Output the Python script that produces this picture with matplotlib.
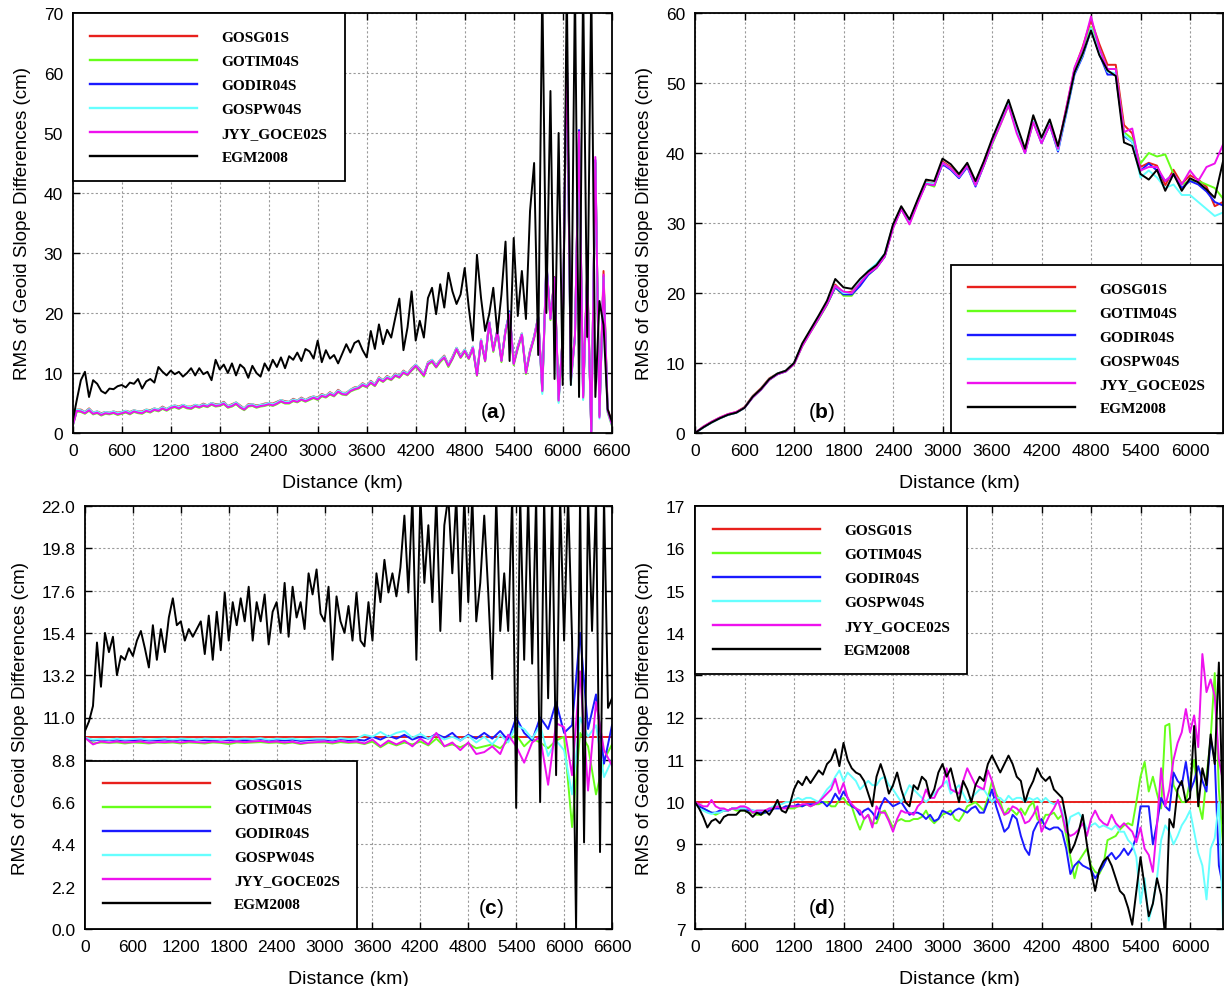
import numpy as np
import matplotlib
matplotlib.use("Agg")
import matplotlib.pyplot as plt
from matplotlib.ticker import FormatStrFormatter

plt.rcParams['font.family'] = ['Liberation Sans', 'DejaVu Sans']
plt.rcParams['mathtext.fontset'] = 'custom'
plt.rcParams['mathtext.rm'] = 'Liberation Sans'
plt.rcParams['mathtext.bf'] = 'Liberation Sans:bold'

models = ['GOSG01S', 'GOTIM04S', 'GODIR04S', 'GOSPW04S', 'JYY_GOCE02S', 'EGM2008']
colors = ['#e8201c', '#66ff1a', '#1a1aff', '#66ffff', '#ee11ee', '#000000']

# ---------------- panel (a): 0-6600 km, 50 km steps ----------------
dist_a = np.arange(0, 6601, 50)

gosg01s_a = [1.4, 3.9, 3.9, 3.5, 4.1, 3.4, 3.6, 3.3, 3.5, 3.4,
             3.6, 3.4, 3.5, 3.7, 3.5, 3.8, 3.6, 3.6, 3.9, 3.8,
             4.1, 3.9, 4.4, 4.0, 4.4, 4.6, 4.4, 4.7, 4.4, 4.4,
             4.7, 4.5, 4.9, 4.6, 5.0, 4.8, 4.8, 5.2, 4.5, 4.8,
             5.1, 4.6, 4.1, 4.8, 4.8, 4.6, 4.7, 4.9, 5.0, 4.9,
             5.2, 5.5, 5.3, 5.2, 5.7, 5.4, 5.9, 5.5, 5.9, 6.1,
             5.9, 6.5, 6.2, 6.8, 6.4, 7.2, 6.7, 6.7, 7.2, 7.6,
             7.7, 8.3, 7.9, 8.7, 8.1, 9.3, 8.8, 9.5, 9.1, 9.9,
             9.5, 10.4, 9.9, 10.8, 11.4, 10.7, 9.8, 11.8, 12.2, 11.3,
             12.2, 12.9, 11.4, 12.7, 14.2, 12.9, 13.9, 12.7, 14.4, 9.9,
             15.6, 12.3, 18.6, 14.0, 17.2, 12.3, 17.2, 20.0, 11.8, 14.5,
             16.6, 10.3, 13.8, 16.1, 19.4, 7.3, 28.3, 19.3, 26.0, 5.7,
             16.2, 63.5, 9.0, 16.3, 49.5, 6.2, 26.8, 0.5, 45.0, 3.0,
             27.0, 4.0, 1.8]
gotim04s_a = [1.1, 3.6, 3.5, 3.2, 3.7, 3.1, 3.3, 2.9, 3.2, 3.1,
              3.3, 3.0, 3.2, 3.4, 3.1, 3.5, 3.3, 3.2, 3.6, 3.4,
              3.8, 3.6, 4.0, 3.7, 4.1, 4.3, 4.0, 4.4, 4.1, 4.0,
              4.4, 4.2, 4.5, 4.3, 4.7, 4.4, 4.5, 4.8, 4.2, 4.4,
              4.8, 4.2, 3.8, 4.4, 4.5, 4.2, 4.4, 4.5, 4.7, 4.5,
              4.8, 5.2, 4.9, 4.9, 5.3, 5.1, 5.5, 5.2, 5.5, 5.8,
              5.5, 6.1, 5.9, 6.4, 6.1, 6.8, 6.4, 6.3, 6.9, 7.2,
              7.4, 7.9, 7.6, 8.3, 7.8, 8.9, 8.5, 9.1, 8.8, 9.5,
              9.2, 10.0, 9.6, 10.4, 11.0, 10.3, 9.4, 11.4, 11.8, 10.9,
              11.8, 12.5, 11.0, 12.3, 13.8, 12.5, 13.5, 12.3, 14.0, 9.5,
              15.2, 11.9, 18.2, 13.5, 16.8, 11.8, 16.8, 19.5, 11.3, 14.0,
              16.2, 9.8, 13.3, 15.7, 19.0, 6.8, 27.6, 18.8, 25.5, 5.2,
              15.6, 63.0, 8.5, 15.8, 49.0, 5.6, 26.5, 0.3, 45.0, 3.2,
              26.0, 3.4, 1.3]
godir04s_a = [1.3, 3.8, 3.7, 3.4, 3.9, 3.3, 3.5, 3.1, 3.4, 3.3,
              3.5, 3.2, 3.4, 3.6, 3.3, 3.7, 3.5, 3.4, 3.8, 3.6,
              4.0, 3.8, 4.2, 3.9, 4.3, 4.5, 4.2, 4.6, 4.3, 4.2,
              4.6, 4.4, 4.7, 4.5, 4.9, 4.6, 4.7, 5.0, 4.4, 4.6,
              5.0, 4.4, 4.0, 4.6, 4.7, 4.4, 4.6, 4.7, 4.9, 4.7,
              5.0, 5.4, 5.1, 5.1, 5.5, 5.3, 5.7, 5.4, 5.7, 6.0,
              5.7, 6.3, 6.1, 6.6, 6.3, 7.0, 6.6, 6.5, 7.1, 7.4,
              7.6, 8.1, 7.8, 8.5, 8.0, 9.1, 8.7, 9.3, 9.0, 9.7,
              9.4, 10.2, 9.8, 10.6, 11.3, 10.5, 9.7, 11.6, 12.1, 11.1,
              12.1, 12.7, 11.3, 12.5, 14.1, 12.7, 13.8, 12.5, 14.3, 9.7,
              15.5, 12.1, 18.5, 13.8, 17.1, 12.1, 17.1, 20.3, 11.6, 14.3,
              16.5, 10.1, 13.6, 16.0, 19.3, 7.1, 28.6, 19.1, 25.9, 5.5,
              16.0, 64.5, 8.8, 16.1, 50.5, 6.0, 26.0, 0.2, 45.5, 2.8,
              26.0, 3.8, 1.6]
gospw04s_a = [1.3, 3.9, 3.8, 3.5, 4.0, 3.4, 3.6, 3.2, 3.5, 3.4,
              3.6, 3.3, 3.5, 3.7, 3.4, 3.8, 3.6, 3.5, 3.9, 3.7,
              4.1, 3.9, 4.3, 4.0, 4.4, 4.6, 4.3, 4.7, 4.4, 4.3,
              4.7, 4.5, 4.8, 4.6, 5.0, 4.7, 4.8, 5.1, 4.5, 4.7,
              5.1, 4.5, 4.1, 4.7, 4.8, 4.5, 4.7, 4.8, 5.0, 4.8,
              5.1, 5.5, 5.2, 5.2, 5.6, 5.4, 5.8, 5.5, 5.8, 6.1,
              5.8, 6.4, 6.2, 6.7, 6.4, 7.1, 6.7, 6.6, 7.2, 7.5,
              7.7, 8.2, 7.9, 8.6, 8.1, 9.2, 8.8, 9.4, 9.1, 9.8,
              9.5, 10.3, 9.9, 10.7, 11.4, 10.6, 9.8, 11.7, 12.2, 11.2,
              12.2, 12.8, 11.4, 12.6, 14.2, 12.8, 13.9, 12.6, 14.4, 9.8,
              15.6, 12.2, 18.6, 13.9, 17.2, 12.2, 17.2, 20.0, 11.7, 14.4,
              16.6, 10.2, 13.7, 16.1, 19.4, 6.5, 28.0, 19.2, 25.6, 5.0,
              16.1, 63.0, 8.0, 16.2, 49.0, 5.5, 26.2, 0.4, 45.0, 2.4,
              26.0, 3.5, 1.4]
jyy_goce02s_a = [1.2, 3.7, 3.6, 3.3, 3.8, 3.2, 3.4, 3.0, 3.3, 3.2,
                 3.4, 3.1, 3.3, 3.5, 3.2, 3.6, 3.4, 3.3, 3.7, 3.5,
                 3.9, 3.7, 4.1, 3.8, 4.2, 4.4, 4.1, 4.5, 4.2, 4.1,
                 4.5, 4.3, 4.6, 4.4, 4.8, 4.5, 4.6, 4.9, 4.3, 4.5,
                 4.9, 4.3, 3.9, 4.5, 4.6, 4.3, 4.5, 4.6, 4.8, 4.6,
                 4.9, 5.3, 5.0, 5.0, 5.4, 5.2, 5.6, 5.3, 5.6, 5.9,
                 5.6, 6.2, 6.0, 6.5, 6.2, 6.9, 6.5, 6.4, 7.0, 7.3,
                 7.5, 8.0, 7.7, 8.4, 7.9, 9.0, 8.6, 9.2, 8.9, 9.6,
                 9.3, 10.1, 9.7, 10.5, 11.2, 10.4, 9.6, 11.5, 12.0, 11.0,
                 12.0, 12.6, 11.2, 12.4, 14.0, 12.6, 13.7, 12.4, 14.2, 9.6,
                 15.4, 12.0, 18.4, 13.7, 17.0, 12.0, 17.0, 19.8, 11.5, 14.2,
                 16.4, 10.0, 13.5, 15.9, 19.2, 7.0, 28.0, 19.0, 25.8, 5.4,
                 15.9, 64.0, 8.7, 16.0, 50.2, 5.9, 27.0, 0.0, 46.0, 2.6,
                 26.4, 3.7, 1.5]
egm2008_a = [2.0, 5.5, 8.8, 10.2, 6.0, 8.8, 8.2, 7.0, 6.6, 7.4,
             7.3, 7.8, 8.0, 7.6, 8.4, 8.2, 9.0, 7.4, 8.6, 9.0,
             8.4, 11.0, 10.2, 9.6, 10.4, 9.8, 10.2, 9.4, 10.0, 10.8,
             9.6, 10.8, 9.8, 10.2, 8.8, 12.2, 10.6, 11.4, 10.0, 11.6,
             9.6, 11.4, 10.8, 9.2, 11.2, 10.0, 9.4, 11.6, 10.4, 12.2,
             11.0, 12.6, 10.8, 12.8, 12.2, 13.4, 12.0, 14.0, 13.6, 12.4,
             15.4, 11.8, 13.8, 12.4, 13.0, 11.6, 13.2, 14.8, 13.4, 15.0,
             15.4, 13.8, 12.6, 17.0, 14.0, 18.1, 14.8, 17.2, 15.9, 19.2,
             22.4, 13.8, 17.6, 23.6, 15.4, 18.7, 15.9, 22.5, 24.2, 19.8,
             24.8, 20.9, 26.7, 23.6, 21.5, 23.1, 27.5, 20.9, 15.4, 29.7,
             22.5, 17.0, 19.8, 24.2, 16.6, 23.1, 31.9, 12.0, 32.5, 19.5,
             27.0, 19.0, 37.0, 45.0, 13.0, 75.0, 20.0, 57.0, 9.0, 50.0,
             8.0, 75.0, 8.0, 75.0, 6.0, 75.0, 16.0, 75.0, 6.0, 22.0,
             18.0, 4.0, 2.0]

# ---------------- panel (b): 0-6400 km, 100 km steps ----------------
dist_b = np.arange(0, 6401, 100)

gosg01s_b = [0.0, 0.9, 1.6, 2.2, 2.7, 3.0, 3.7, 5.3, 6.4, 7.8,
             8.5, 8.9, 10.0, 12.6, 14.6, 16.5, 18.5, 21.2, 20.0, 20.2,
             21.4, 22.8, 23.8, 25.4, 29.6, 32.2, 30.3, 33.2, 35.9, 35.6,
             38.8, 38.0, 36.8, 38.4, 35.8, 38.6, 41.6, 44.4, 47.2, 43.6,
             40.4, 44.8, 41.8, 44.4, 40.8, 46.4, 52.0, 55.2, 59.0, 55.6,
             52.6, 52.6, 44.0, 42.8, 38.0, 38.6, 38.2, 35.4, 37.6, 35.6,
             36.8, 36.2, 35.2, 32.4, 33.0]
gotim04s_b = [0.0, 0.8, 1.5, 2.1, 2.6, 2.9, 3.6, 5.1, 6.2, 7.6,
              8.4, 8.8, 9.8, 12.4, 14.4, 16.3, 18.3, 20.8, 19.6, 19.6,
              21.2, 22.6, 23.6, 25.2, 29.4, 32.0, 30.0, 33.0, 35.6, 35.2,
              38.6, 37.8, 36.6, 38.2, 35.4, 38.2, 41.2, 44.0, 46.8, 43.2,
              40.2, 44.4, 41.6, 44.0, 40.6, 46.0, 51.8, 54.6, 58.0, 55.0,
              52.0, 52.0, 43.0, 42.0, 38.5, 40.0, 39.5, 39.8, 37.0, 35.5,
              36.0, 36.0, 35.5, 35.0, 33.5]
godir04s_b = [0.0, 0.8, 1.5, 2.1, 2.6, 2.9, 3.6, 5.1, 6.2, 7.6,
              8.4, 8.8, 9.9, 12.5, 14.5, 16.4, 18.4, 20.8, 19.8, 19.8,
              21.0, 22.6, 23.6, 25.2, 29.4, 32.0, 30.0, 33.0, 35.6, 35.4,
              38.4, 37.6, 36.4, 38.0, 35.2, 38.2, 41.4, 44.2, 47.0, 43.4,
              40.0, 44.6, 41.4, 44.0, 40.2, 45.6, 51.2, 53.8, 57.6, 54.2,
              51.2, 51.2, 42.4, 41.6, 37.5, 38.5, 37.5, 36.0, 37.0, 35.0,
              36.0, 35.5, 34.5, 33.0, 32.5]
gospw04s_b = [0.0, 0.8, 1.5, 2.1, 2.6, 2.9, 3.6, 5.2, 6.3, 7.7,
              8.5, 8.9, 10.0, 12.6, 14.6, 16.6, 18.6, 21.0, 20.0, 20.0,
              21.6, 23.2, 24.2, 25.6, 29.6, 32.2, 30.2, 33.2, 35.8, 35.6,
              38.6, 37.8, 36.6, 38.2, 35.4, 38.4, 41.4, 44.2, 47.0, 43.4,
              40.2, 44.6, 41.6, 44.2, 40.4, 45.8, 51.4, 54.0, 57.8, 54.4,
              51.6, 51.4, 42.6, 41.6, 36.5, 37.5, 36.5, 35.0, 35.5, 34.0,
              34.0, 33.0, 32.0, 31.0, 31.5]
jyy_goce02s_b = [0.0, 0.9, 1.6, 2.2, 2.7, 3.0, 3.6, 5.1, 6.2, 7.6,
                 8.4, 8.8, 9.8, 12.4, 14.4, 16.4, 18.4, 21.0, 20.2, 20.0,
                 21.4, 22.8, 23.6, 25.2, 29.2, 32.0, 29.8, 32.8, 35.6, 35.4,
                 38.6, 37.8, 36.6, 38.2, 35.4, 38.2, 41.4, 44.0, 46.8, 42.8,
                 40.0, 44.4, 41.4, 44.0, 40.6, 46.4, 52.2, 55.0, 59.5, 55.0,
                 52.0, 52.0, 43.0, 43.5, 37.5, 38.0, 38.0, 36.0, 37.0, 35.5,
                 37.5, 36.0, 38.0, 38.5, 41.2]
egm2008_b = [0.0, 0.8, 1.5, 2.1, 2.6, 2.9, 3.6, 5.2, 6.3, 7.7,
             8.5, 8.9, 10.0, 12.8, 14.8, 16.8, 18.9, 22.0, 20.8, 20.6,
             22.0, 23.1, 24.0, 25.6, 29.8, 32.4, 30.5, 33.4, 36.2, 36.0,
             39.2, 38.4, 37.0, 38.6, 36.0, 38.8, 42.0, 44.8, 47.6, 44.0,
             40.6, 45.4, 42.2, 44.8, 41.0, 46.0, 51.5, 54.2, 57.5, 54.0,
             51.8, 51.0, 41.5, 41.0, 37.0, 36.2, 37.6, 34.6, 37.0, 34.6,
             36.4, 35.8, 34.8, 33.6, 38.8]

# ---------------- panel (c): 0-6600 km ----------------
dist_c_ref = [0, 6600]
dist_c = np.arange(0, 6601, 100)
dist_c_egm = np.arange(0, 6601, 50)

gosg01s_c = [10.0, 10.0]
gotim04s_c = [9.95, 9.65, 9.7, 9.68, 9.7, 9.65, 9.7, 9.68, 9.65, 9.7,
              9.68, 9.7, 9.65, 9.7, 9.68, 9.65, 9.7, 9.68, 9.62, 9.7,
              9.68, 9.7, 9.72, 9.68, 9.7, 9.65, 9.7, 9.62, 9.68, 9.7,
              9.7, 9.65, 9.72, 9.68, 9.7, 9.62, 9.75, 9.45, 9.7, 9.55,
              9.7, 9.6, 9.75, 9.55, 9.9, 9.5, 9.6, 9.45, 9.65, 9.4,
              9.5, 9.6, 9.4, 9.8, 10.1, 9.5, 9.9, 9.7, 9.4, 9.8,
              10.0, 5.3, 10.2, 9.5, 7.0, 8.8, 9.6]
godir04s_c = [9.95, 9.8, 9.85, 9.82, 9.85, 9.8, 9.82, 9.85, 9.8, 9.82,
              9.85, 9.82, 9.85, 9.8, 9.85, 9.82, 9.8, 9.85, 9.82, 9.85,
              9.82, 9.85, 9.88, 9.82, 9.85, 9.8, 9.85, 9.78, 9.82, 9.85,
              9.85, 9.8, 9.88, 9.82, 9.85, 9.8, 10.0, 9.85, 10.05, 9.9,
              10.1, 9.85, 10.0, 9.9, 10.15, 9.95, 10.2, 9.8, 10.1, 9.9,
              10.2, 9.9, 10.3, 9.8, 11.0, 10.2, 9.8, 11.0, 10.4, 11.8,
              10.2, 10.6, 15.4, 10.4, 12.2, 8.6, 10.6]
gospw04s_c = [9.95, 9.85, 9.88, 9.85, 9.9, 9.85, 9.88, 9.9, 9.85, 9.88,
              9.9, 9.85, 9.9, 9.88, 9.85, 9.9, 9.88, 9.85, 9.9, 9.88,
              9.9, 9.88, 9.92, 9.85, 9.9, 9.88, 9.9, 9.85, 9.88, 9.9,
              9.9, 9.85, 9.92, 9.88, 9.9, 10.1, 10.0, 10.25, 10.0, 10.2,
              10.3, 9.95, 10.15, 9.9, 10.1, 9.85, 10.0, 9.8, 10.05, 9.7,
              10.0, 9.6, 10.1, 9.7, 10.6, 10.4, 9.9, 10.6, 9.0, 9.8,
              9.3, 7.0, 11.0, 10.0, 10.6, 7.9, 8.8]
jyy_goce02s_c = [9.95, 9.6, 9.75, 9.7, 9.75, 9.7, 9.72, 9.75, 9.68, 9.72,
                 9.72, 9.75, 9.7, 9.75, 9.72, 9.7, 9.75, 9.72, 9.7, 9.75,
                 9.72, 9.75, 9.78, 9.72, 9.75, 9.7, 9.74, 9.65, 9.7, 9.72,
                 9.75, 9.7, 9.78, 9.72, 9.75, 9.65, 9.85, 9.5, 9.8, 9.6,
                 9.8, 9.5, 9.9, 9.6, 10.2, 9.5, 9.7, 9.3, 9.7, 9.1,
                 9.2, 9.5, 9.1, 10.1, 9.5, 8.65, 9.7, 10.0, 7.5, 10.7,
                 10.5, 8.0, 13.4, 7.2, 11.8, 9.3, 8.5]
egm2008_c = [10.3, 10.8, 11.6, 14.9, 12.6, 15.4, 14.4, 15.2, 13.2, 14.2,
             14.0, 14.6, 14.2, 15.0, 15.5, 14.6, 13.6, 15.8, 14.0, 15.6,
             14.4, 16.2, 17.2, 15.8, 16.0, 15.0, 15.6, 15.2, 15.6, 16.0,
             14.3, 16.3, 14.0, 16.5, 14.5, 17.5, 15.0, 17.0, 15.8, 17.2,
             16.0, 17.8, 15.0, 17.0, 16.0, 17.4, 14.8, 16.5, 17.0, 15.4,
             18.0, 15.2, 17.8, 16.2, 17.0, 15.6, 18.5, 17.4, 18.7, 16.4,
             16.0, 17.8, 14.0, 17.3, 16.0, 15.4, 16.8, 15.0, 17.5, 15.0,
             14.7, 17.0, 15.0, 18.5, 17.0, 19.2, 17.5, 18.5, 17.3, 18.8,
             21.5, 17.5, 22.5, 14.0, 22.5, 18.0, 21.0, 17.0, 22.5, 15.5,
             21.0, 22.5, 18.5, 22.5, 16.0, 22.5, 17.0, 22.5, 16.0, 18.0,
             21.5, 17.5, 13.0, 22.5, 15.5, 18.5, 15.5, 22.5, 6.3, 22.5,
             14.0, 22.5, 13.8, 22.5, 6.6, 22.5, 12.0, 22.5, 8.0, 22.5,
             15.0, 22.5, 15.0, 0.0, 22.5, 4.5, 22.5, 15.5, 22.5, 4.0,
             22.5, 11.5, 12.0]

# ---------------- panel (d): 0-6400 km, 50 km steps ----------------
dist_d_ref = [0, 6400]
dist_d = np.arange(0, 6401, 50)

gosg01s_d = [10.0, 10.0]
gotim04s_d = [10.0, 9.9, 9.85, 9.8, 9.75, 9.7, 9.75, 9.8, 9.8, 9.85,
              9.8, 9.8, 9.8, 9.75, 9.75, 9.7, 9.7, 9.75, 9.8, 9.85,
              9.9, 9.85, 9.9, 9.85, 9.85, 9.9, 9.9, 9.95, 9.9, 9.95,
              9.95, 10.0, 10.0, 9.9, 9.9, 10.05, 10.1, 9.95, 9.9, 9.6,
              9.35, 9.6, 9.7, 9.5, 9.5, 9.75, 9.8, 9.6, 9.4, 9.55,
              9.6, 9.55, 9.55, 9.6, 9.6, 9.65, 9.8, 9.6, 9.5, 9.6,
              9.7, 9.75, 9.8, 9.6, 9.55, 9.7, 9.9, 9.95, 10.0, 9.9,
              9.8, 10.1, 10.5, 10.2, 10.0, 9.7, 9.85, 9.8, 9.7, 9.85,
              9.7, 9.9, 10.0, 9.6, 9.5, 9.7, 9.7, 9.75, 9.6, 9.7,
              9.2, 8.7, 8.2, 8.6, 8.75, 8.9, 8.5, 8.35, 8.3, 8.5,
              9.1, 9.15, 9.2, 9.35, 9.45, 9.5, 9.45, 10.0, 10.6, 10.95,
              10.25, 10.6, 10.2, 9.85, 11.8, 11.85, 10.4, 10.2, 10.0, 10.0,
              10.5, 11.0, 10.0, 9.6, 10.6, 11.5, 13.05, 10.3, 9.0]
godir04s_d = [10.0, 9.9, 9.85, 9.8, 9.75, 9.75, 9.8, 9.8, 9.8, 9.85,
              9.85, 9.85, 9.85, 9.8, 9.8, 9.75, 9.75, 9.75, 9.8, 9.85,
              9.85, 9.85, 9.9, 9.9, 9.9, 9.95, 9.9, 9.95, 9.95, 9.95,
              10.0, 10.0, 9.9, 10.0, 10.2, 10.05, 10.25, 10.1, 9.9, 9.85,
              9.7, 9.8, 9.85, 9.75, 9.6, 9.9, 10.1, 10.0, 9.9, 9.95,
              10.0, 9.85, 9.7, 9.75, 9.75, 9.7, 9.6, 9.7, 9.55, 9.6,
              9.8, 9.75, 9.7, 9.8, 9.85, 9.8, 9.75, 9.85, 9.9, 9.75,
              9.75, 10.0, 10.3, 9.9, 9.6, 9.3, 9.4, 9.7, 9.6, 9.2,
              8.9, 8.75, 9.3, 9.5, 9.6, 9.4, 9.35, 9.4, 9.4, 9.3,
              8.9, 8.3, 8.5, 8.6, 8.5, 8.45, 8.4, 8.2, 8.35, 8.5,
              8.7, 8.8, 8.65, 8.75, 8.9, 8.75, 8.9, 9.2, 9.9, 9.9,
              9.9, 9.0, 9.5, 10.1, 9.9, 9.8, 10.7, 10.5, 10.4, 10.95,
              10.25, 10.5, 10.85, 10.5, 10.25, 11.5, 11.0, 8.5, 8.0]
gospw04s_d = [10.0, 9.85, 9.8, 9.75, 9.72, 9.75, 9.75, 9.8, 9.8, 9.85,
              9.85, 9.85, 9.85, 9.85, 9.8, 9.8, 9.8, 9.8, 9.85, 9.9,
              9.95, 9.95, 10.0, 10.0, 10.05, 10.1, 10.05, 10.1, 10.1, 10.05,
              10.0, 10.15, 10.3, 10.4, 10.6, 10.75, 10.5, 10.7, 10.6, 10.5,
              10.3, 10.4, 10.5, 10.4, 10.4, 10.55, 10.6, 10.4, 10.3, 10.15,
              10.0, 10.2, 10.4, 10.3, 10.2, 10.1, 10.0, 10.1, 10.2, 10.3,
              10.4, 10.5, 10.2, 10.3, 10.4, 10.2, 10.0, 10.1, 10.2, 10.3,
              10.3, 10.15, 10.0, 10.1, 10.1, 10.0, 10.15, 10.05, 10.1, 10.1,
              10.0, 10.1, 10.05, 10.1, 10.0, 10.1, 10.0, 9.95, 10.0, 9.8,
              9.3, 9.65, 9.7, 9.75, 9.6, 9.35, 9.45, 9.5, 9.4, 9.45,
              9.4, 9.35, 9.45, 9.3, 9.3, 9.1, 9.0, 8.7, 7.6, 8.2,
              7.2, 7.6, 8.2, 9.1, 9.45, 9.3, 9.0, 9.2, 9.45, 9.6,
              9.8, 9.3, 8.8, 8.5, 7.7, 8.9, 9.15, 10.0, 7.1]
jyy_goce02s_d = [10.0, 9.95, 9.9, 9.9, 10.05, 9.9, 9.85, 9.85, 9.8, 9.85,
                 9.85, 9.9, 9.9, 9.85, 9.75, 9.8, 9.8, 9.8, 9.85, 9.85,
                 9.9, 9.85, 9.85, 9.9, 9.9, 9.9, 9.95, 9.95, 9.9, 9.95,
                 10.0, 10.1, 10.2, 10.3, 10.55, 10.2, 10.45, 10.1, 9.95, 9.85,
                 9.8, 9.6, 9.7, 9.4, 9.9, 9.75, 9.75, 9.55, 9.3, 9.6,
                 9.8, 9.75, 9.75, 9.7, 9.9, 10.0, 10.3, 10.1, 10.1, 10.3,
                 10.4, 10.8, 10.3, 10.25, 10.2, 10.5, 10.8, 10.6, 10.4, 10.35,
                 10.3, 10.75, 10.5, 10.1, 9.9, 9.7, 9.75, 9.9, 9.85, 9.75,
                 9.5, 9.55, 9.7, 9.9, 9.3, 9.5, 9.7, 9.85, 10.05, 9.7,
                 9.3, 9.2, 9.25, 9.35, 9.5, 9.2, 9.6, 9.8, 9.6, 9.5,
                 9.45, 9.7, 9.5, 9.4, 9.5, 9.4, 9.3, 9.05, 9.4, 8.9,
                 8.75, 8.35, 9.45, 10.8, 9.9, 10.3, 11.0, 11.4, 11.65, 12.2,
                 11.65, 12.05, 11.3, 13.5, 12.6, 12.9, 12.5, 11.0, 10.5]
egm2008_d = [10.0, 9.85, 9.65, 9.4, 9.55, 9.6, 9.5, 9.65, 9.7, 9.7,
             9.7, 9.8, 9.8, 9.75, 9.65, 9.75, 9.7, 9.8, 9.7, 9.85,
             10.05, 9.8, 9.75, 9.95, 10.3, 10.5, 10.4, 10.6, 10.45, 10.6,
             10.75, 10.65, 10.9, 11.0, 11.25, 10.85, 11.4, 11.0, 10.8, 10.7,
             10.65, 10.5, 10.2, 9.9, 10.6, 10.9, 10.6, 10.2, 10.4, 10.7,
             10.3, 10.0, 9.9, 10.4, 10.3, 10.6, 10.5, 10.1, 10.3, 10.7,
             10.9, 10.6, 10.8, 10.4, 10.0, 10.5, 10.3, 10.0, 10.4, 10.6,
             10.5, 10.9, 11.1, 10.9, 10.7, 10.9, 11.1, 10.9, 10.6, 10.5,
             10.0, 10.3, 10.5, 10.8, 10.6, 10.5, 10.6, 10.3, 10.2, 10.1,
             9.6, 8.8, 9.0, 9.3, 9.7, 9.0, 8.4, 7.9, 8.4, 8.6,
             8.7, 8.5, 8.2, 7.9, 7.8, 7.5, 7.1, 7.9, 8.7, 8.0,
             7.3, 7.6, 8.2, 7.8, 6.8, 9.6, 9.4, 10.3, 10.5, 10.0,
             10.1, 11.8, 9.9, 10.8, 10.4, 11.6, 10.9, 13.3, 9.5]


def draw_panel(ax, curves, xmax, ylim, ystep, letter, letter_x, leg_loc, leg_anchor, yfmt=None):
    for (x, y), name, c in zip(curves, models, colors):
        ax.plot(x, y, color=c, lw=1.4, label=name)
    ax.set_xlim(0, xmax)
    ax.set_ylim(*ylim)
    ax.set_xticks(np.arange(0, xmax + 1, 600))
    ax.set_yticks(np.arange(ylim[0], ylim[1] + ystep / 2, ystep))
    if yfmt:
        ax.yaxis.set_major_formatter(FormatStrFormatter(yfmt))
    ax.set_axisbelow(True)
    ax.grid(True, color='#9a9a9a', linestyle=(0, (2, 2)), linewidth=0.8)
    ax.tick_params(direction='in', top=True, right=True, length=5, width=1,
                   labelsize=12.5, pad=7)
    for sp in ax.spines.values():
        sp.set_linewidth(1.3)
    ax.set_xlabel('Distance (km)', fontsize=14, labelpad=12)
    ax.set_ylabel('RMS of Geoid Slope Differences (cm)', fontsize=13.5, labelpad=9)
    leg = ax.legend(loc=leg_loc, bbox_to_anchor=leg_anchor, borderaxespad=0,
                    fancybox=False, framealpha=1, edgecolor='black',
                    prop={'family': 'Liberation Serif', 'weight': 'bold', 'size': 11},
                    handlelength=7.0, handletextpad=1.6, labelspacing=0.67,
                    borderpad=1.15)
    leg.get_frame().set_linewidth(1.3)
    for h in leg.get_lines():
        h.set_linewidth(1.7)
    ax.text(letter_x, 0.05, r'($\mathbf{' + letter + '}$)', transform=ax.transAxes,
            fontsize=15, ha='center', va='center')


fig = plt.figure(figsize=(12.26, 9.87), dpi=100)
W, H = 1226.0, 987.0
ax_a = fig.add_axes([72.7 / W, (H - 434) / H, 539 / W, 420 / H])
ax_b = fig.add_axes([695 / W, (H - 434) / H, 528 / W, 420 / H])
ax_c = fig.add_axes([85 / W, (H - 930) / H, 527 / W, 423 / H])
ax_d = fig.add_axes([695 / W, (H - 930) / H, 528 / W, 423 / H])

draw_panel(ax_a,
           [(dist_a, gosg01s_a), (dist_a, gotim04s_a), (dist_a, godir04s_a),
            (dist_a, gospw04s_a), (dist_a, jyy_goce02s_a), (dist_a, egm2008_a)],
           6600, (0, 70), 10, 'a', 0.78, 'upper left', (0, 1))
draw_panel(ax_b,
           [(dist_b, gosg01s_b), (dist_b, gotim04s_b), (dist_b, godir04s_b),
            (dist_b, gospw04s_b), (dist_b, jyy_goce02s_b), (dist_b, egm2008_b)],
           6400, (0, 60), 10, 'b', 0.24, 'lower right', (1, 0))
draw_panel(ax_c,
           [(dist_c_ref, gosg01s_c), (dist_c, gotim04s_c), (dist_c, godir04s_c),
            (dist_c, gospw04s_c), (dist_c, jyy_goce02s_c), (dist_c_egm, egm2008_c)],
           6600, (0, 22), 2.2, 'c', 0.77, 'lower left', (0, 0), yfmt='%.1f')
draw_panel(ax_d,
           [(dist_d_ref, gosg01s_d), (dist_d, gotim04s_d), (dist_d, godir04s_d),
            (dist_d, gospw04s_d), (dist_d, jyy_goce02s_d), (dist_d, egm2008_d)],
           6400, (7, 17), 1, 'd', 0.24, 'upper left', (0, 1))

fig.savefig('out.png', dpi=100)
